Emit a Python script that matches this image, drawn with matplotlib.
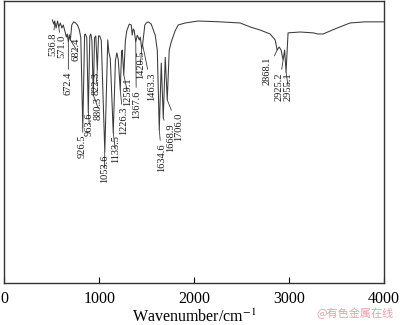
import matplotlib
matplotlib.use("Agg")
import matplotlib.pyplot as plt

plt.rcParams['font.family'] = ['Liberation Serif', 'DejaVu Serif']
plt.rcParams['mathtext.fontset'] = 'stix'

# IR spectrum (wavenumber / cm-1, transmittance / %)
wavenumber = [505, 520, 530, 545, 560, 573, 590, 605, 620, 640, 653, 662, 674, 684, 695,
              710, 730, 750, 770, 790, 805, 826, 845, 853, 868, 884, 900, 911, 922, 937,
              950, 963, 979, 992, 1005, 1021, 1058, 1089, 1100, 1116, 1147, 1170, 1185,
              1200, 1221, 1235, 1242, 1258, 1275, 1290, 1316, 1337, 1347, 1358, 1368,
              1384, 1400, 1421, 1432, 1447, 1456, 1480, 1495, 1516, 1547, 1589, 1611,
              1632, 1653, 1674, 1695, 1716, 1737, 1758, 1800, 1832, 1905, 2042, 2274,
              2484, 2589, 2695, 2800, 2853, 2874, 2895, 2916, 2937, 2953, 2968, 2989,
              3116, 3253, 3305, 3358, 3484, 3642, 3800, 4000]
transmittance = [93.3, 91.8, 92.9, 90.4, 92.9, 90.8, 92.2, 90.4, 91.5, 89.0, 87.2, 88.3, 85.5, 88.0, 86.2,
                 91.5, 92.6, 92.2, 91.5, 89.7, 87.0, 55.0, 88.0, 88.3, 87.0, 60.6, 87.6, 88.3, 86.0, 66.7,
                 87.0, 87.6, 75.5, 87.6, 87.6, 86.0, 46.5, 86.2, 82.0, 79.5, 53.2, 79.0, 81.6,
                 79.1, 68.4, 82.0, 82.6, 73.8, 86.0, 89.5, 91.8, 91.5, 87.9, 90.1, 89.5,
                 85.5, 87.9, 86.2, 87.2, 83.0, 84.5, 91.5, 92.2, 92.6, 91.8, 87.9, 82.6,
                 54.3, 78.0, 58.5, 80.0, 64.9, 82.6, 85.5, 89.5, 91.5, 92.2, 92.9, 92.6,
                 92.2, 90.8, 89.7, 88.3, 86.2, 82.6, 83.7, 82.6, 79.1, 82.6, 74.8, 88.7,
                 89.0, 88.7, 88.3, 88.3, 90.1, 92.2, 92.6, 92.6]

# peak labels: where the leader touches the curve, and where the label sits
peak_labels = ['536.8', '571.0', '672.4', '682.4', '926.5', '963.6', '880.3', '822.3',
               '1053.6', '1133.5', '1226.3', '1259.1', '1367.6', '1420.5', '1463.3',
               '1634.6', '1668.9', '1706.0', '2868.1', '2925.2', '2955.1']
peak_x = [530, 573, 674, 695, 826, 884, 937, 979, 1058, 1147, 1221, 1258, 1384, 1447,
          1456, 1632, 1674, 1716, 2874, 2937, 2968]
peak_y = [92.0, 90.8, 85.5, 86.2, 55.0, 60.6, 66.7, 75.5, 46.5, 53.2, 68.4, 73.8, 85.5,
          83.0, 84.5, 54.3, 58.5, 64.9, 82.6, 79.1, 74.8]
label_x = [505, 600, 674, 758, 821, 895, 989, 968, 1053, 1168, 1253, 1295, 1390, 1432,
           1547, 1658, 1747, 1832, 2768, 2895, 2989]
label_y = [88.7, 87.9, 74.8, 86.9, 52.5, 60.3, 66.0, 74.8, 45.7, 52.5, 62.4, 73.0, 68.4,
           82.6, 74.8, 49.6, 56.7, 60.3, 80.1, 74.8, 74.8]

fig = plt.figure(figsize=(4.0, 3.25), dpi=100)
ax = fig.add_axes([0.011, 0.129, 0.949, 0.868])

ax.plot(wavenumber, transmittance, color='#3a3a3a', linewidth=0.75)

for lab, px, py, lx, ly in zip(peak_labels, peak_x, peak_y, label_x, label_y):
    ax.annotate(lab, xy=(px, py), xytext=(lx, ly), rotation=90,
                ha='center', va='top', fontsize=7.5, color='#1a1a1a',
                arrowprops=dict(arrowstyle='-', color='#3a3a3a', lw=0.6,
                                shrinkA=0, shrinkB=0))

ax.set_xlim(0, 4000)
ax.set_ylim(0, 100)
ax.set_xticks([0, 1000, 2000, 3000, 4000])
ax.set_yticks([])
ax.tick_params(axis='x', direction='in', length=4, width=0.8, labelsize=11.5, pad=6)
for s in ax.spines.values():
    s.set_linewidth(1.0)
    s.set_color('#333333')

ax.set_xlabel('Wavenumber/cm$^{-1}$', fontsize=11.5, labelpad=1)

fig.text(0.985, 0.035, '@有色金属在线', ha='right', va='center', fontsize=8,
         color='#e8a0a8', family=['Noto Sans CJK SC', 'DejaVu Sans'])

fig.savefig('out.png', dpi=100)
